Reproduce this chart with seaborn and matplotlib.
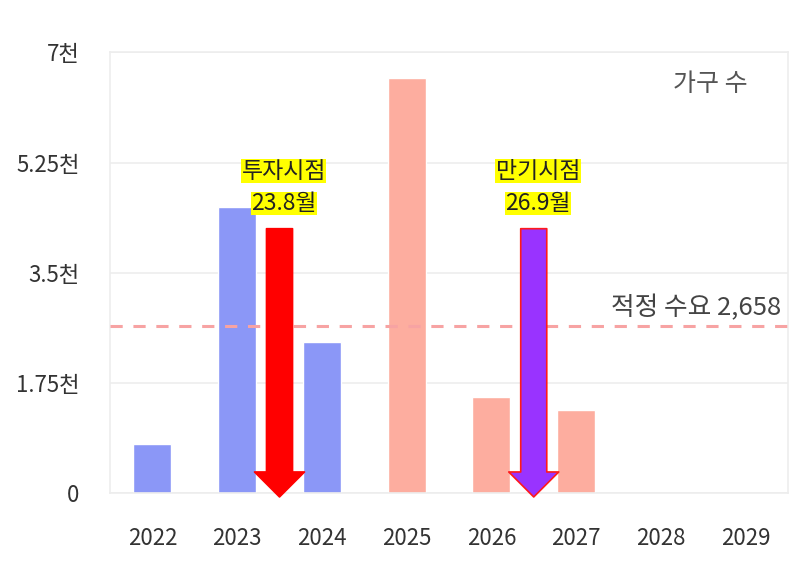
import matplotlib
matplotlib.use("Agg")
import matplotlib.pyplot as plt
import seaborn as sns
import pandas as pd

# 연도별 가구 수
years = ["2022", "2023", "2024", "2025", "2026", "2027", "2028", "2029"]
households = [780, 4540, 2400, 6600, 1520, 1320, 0, 0]
period = ["past", "past", "past", "future", "future", "future", "future", "future"]

demand = 2658
y_ticks = [0, 1750, 3500, 5250, 7000]
y_tick_labels = ["0", "1.75천", "3.5천", "5.25천", "7천"]

# 투자시점 / 만기시점 (x는 연도 사이 위치)
markers = [
    {"x": 1.5, "label": "투자시점", "value": "23.8월", "face": "#FF0000", "edge": "#FF0000"},
    {"x": 4.5, "label": "만기시점", "value": "26.9월", "face": "#9933FF", "edge": "#FF1A1A"},
]

sns.set_theme(style="white")
plt.rcParams['font.family'] = ['Noto Sans CJK KR', 'DejaVu Sans']

df = pd.DataFrame({"year": years, "households": households, "period": period})

fig = plt.figure(figsize=(8.09, 5.63), dpi=100)
ax = fig.add_axes([0.136, 0.124, 0.838, 0.783])

sns.barplot(data=df, x="year", y="households", hue="period",
            palette={"past": "#8B97F7", "future": "#FDAD9F"},
            dodge=False, width=0.45, legend=False, ax=ax, saturation=1)

ax.set_xlim(-0.5, len(years) - 0.5)
ax.set_ylim(0, 7000)
ax.set_yticks(y_ticks)
ax.set_yticklabels(y_tick_labels)
ax.set_xlabel("")
ax.set_ylabel("")
ax.tick_params(axis="both", labelsize=16, colors="#333333", length=0)
ax.tick_params(axis="x", pad=24)
ax.tick_params(axis="y", pad=22)

ax.yaxis.grid(True, color="#EDEDED", linewidth=1.2)
ax.set_axisbelow(True)
for side in ["left", "right", "top", "bottom"]:
    ax.spines[side].set_visible(True)
    ax.spines[side].set_color("#EDEDED")
    ax.spines[side].set_linewidth(1.2)

# 적정 수요선
ax.axhline(demand, color="#F7A3A3", linestyle=(0, (4, 3.5)), linewidth=2.2, zorder=3)
ax.text(len(years) - 0.58, 2940, f"적정 수요 {demand:,}", ha="right", va="center",
        fontsize=18.5, color="#444444")

ax.text(len(years) - 0.98, 6500, "가구 수", ha="right", va="center",
        fontsize=18, color="#555555")

# 화살표와 노란 라벨
for m in markers:
    ax.annotate("", xy=(m["x"], -60), xytext=(m["x"], 4200),
                arrowprops=dict(arrowstyle="simple,head_length=1.2,head_width=2.4,tail_width=1.25",
                                mutation_scale=15, facecolor=m["face"], edgecolor=m["edge"],
                                linewidth=1.2, shrinkA=0, shrinkB=0),
                annotation_clip=False, zorder=5)
    ax.text(m["x"] + 0.05, 5110, m["label"], ha="center", va="center", fontsize=16.5,
            color="#222222", bbox=dict(boxstyle="square,pad=0.02", facecolor="#FFFF00", edgecolor="none"))
    ax.text(m["x"] + 0.05, 4600, m["value"], ha="center", va="center", fontsize=16.5,
            color="#222222", bbox=dict(boxstyle="square,pad=0.02", facecolor="#FFFF00", edgecolor="none"))

fig.savefig("out.png", dpi=100, facecolor="white")
